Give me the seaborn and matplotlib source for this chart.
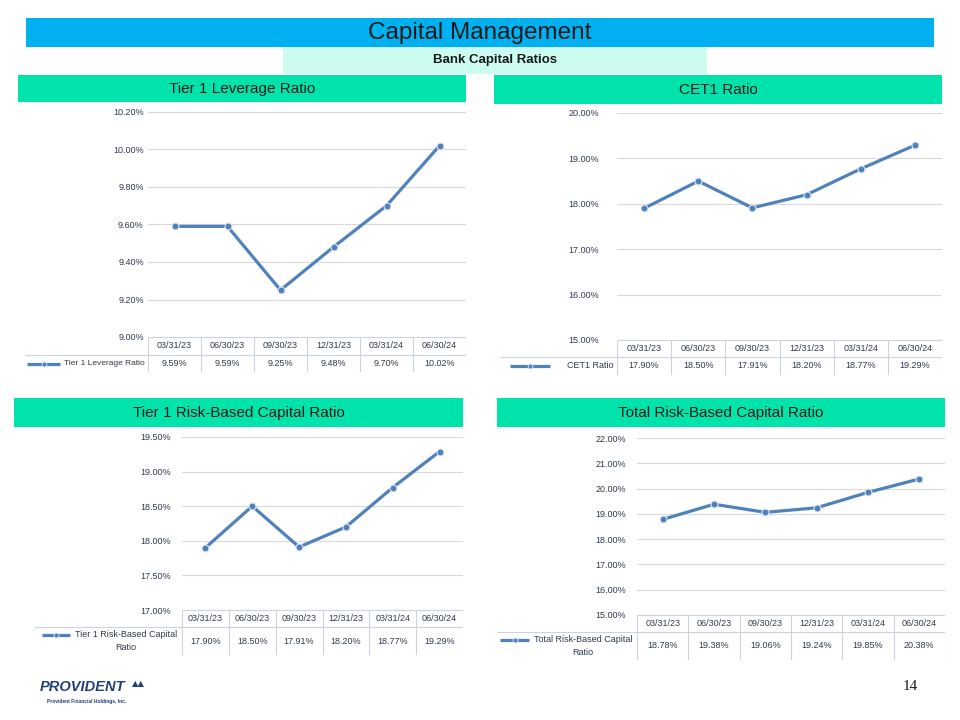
import pandas as pd
import matplotlib
matplotlib.use("Agg")
import matplotlib.pyplot as plt
from matplotlib.patches import Rectangle
import seaborn as sns

# ---- data ----
quarters = ["03/31/23", "06/30/23", "09/30/23", "12/31/23", "03/31/24", "06/30/24"]
tier1_leverage = [9.59, 9.59, 9.25, 9.48, 9.70, 10.02]
cet1 = [17.90, 18.50, 17.91, 18.20, 18.77, 19.29]
tier1_risk_based = [17.90, 18.50, 17.91, 18.20, 18.77, 19.29]
total_risk_based = [18.78, 19.38, 19.06, 19.24, 19.85, 20.38]

lev_ticks = [9.00, 9.20, 9.40, 9.60, 9.80, 10.00, 10.20]
cet1_ticks = [15.00, 16.00, 17.00, 18.00, 19.00, 20.00]
t1rb_ticks = [17.00, 17.50, 18.00, 18.50, 19.00, 19.50]
trb_ticks = [15.00, 16.00, 17.00, 18.00, 19.00, 20.00, 21.00, 22.00]

W, H = 960, 720
LINE = "#4F81BD"
TXT = "#2E3B4E"
GRID = "#D9D9D9"
TBL = "#C9D4E2"

sns.set_theme(style="white")
plt.rcParams["font.family"] = ["Liberation Sans", "DejaVu Sans"]

fig = plt.figure(figsize=(W / 100, H / 100), dpi=100)
fig.patch.set_facecolor("white")


def fbox(x0, y0, x1, y1):
    return [x0 / W, 1 - y1 / H, (x1 - x0) / W, (y1 - y0) / H]


def band(x0, y0, x1, y1, color, text, size, **kw):
    fig.add_artist(Rectangle((x0 / W, 1 - y1 / H), (x1 - x0) / W, (y1 - y0) / H,
                             transform=fig.transFigure, color=color, lw=0))
    fig.text((x0 + x1) / 2 / W, 1 - (y0 + y1) / 2 / H, text, ha="center",
             va="center", fontsize=size, color="#1A1A1A", **kw)


def panel(plot_px, table_px, key_px, values, ticks, label, pad=8,
          two_line=False, label_size=6.5):
    x0, y0, x1, y1 = plot_px
    tleft, h1, h2 = table_px
    kx0, kx1 = key_px
    df = pd.DataFrame({"quarter": quarters, "value": values})

    ax = fig.add_axes(fbox(x0, y0, x1, y1))
    sns.lineplot(data=df, x="quarter", y="value", ax=ax, color=LINE, lw=2.3,
                 marker="o", markersize=5, markeredgecolor="#DCE6F2",
                 markeredgewidth=0.8)
    ax.set_xlim(-0.5, 5.5)
    ax.set_ylim(ticks[0], ticks[-1])
    ax.set_yticks(ticks)
    ax.set_yticklabels([f"{t:.2f}%" for t in ticks], fontsize=6.5, color=TXT)
    ax.set_xticks([])
    ax.set_xlabel("")
    ax.set_ylabel("")
    ax.yaxis.grid(True, color=GRID, lw=0.8)
    ax.tick_params(axis="y", length=0, pad=pad)
    for s in ax.spines.values():
        s.set_visible(False)
    ax.patch.set_alpha(0)

    # data table below the plot
    colw = (x1 - x0) / 6
    lw_cols = (x0 - tleft) / colw
    tax = fig.add_axes(fbox(tleft, y1, x1, y1 + h1 + h2))
    tax.set_xlim(-0.5 - lw_cols, 5.5)
    tax.set_ylim(h1 + h2, 0)
    tax.axis("off")

    def px2x(px):
        return -0.5 - lw_cols + (px - tleft) / colw

    tax.hlines(0, -0.5, 5.5, color=TBL, lw=0.8)
    tax.hlines(h1, -0.5 - lw_cols, 5.5, color=TBL, lw=0.8)
    tax.vlines([i - 0.5 for i in range(7)], 0, h1 + h2, color=TBL, lw=0.8)
    for i, (q, v) in enumerate(zip(quarters, values)):
        tax.text(i, h1 / 2, q, ha="center", va="center", fontsize=6.5, color=TXT)
        tax.text(i, h1 + h2 / 2, f"{v:.2f}%", ha="center", va="center",
                 fontsize=6.5, color=TXT)

    if two_line:
        ky = h1 + h2 * 0.3
        tax.text(px2x((kx1 + x0) / 2), h1 + h2 / 2, label, ha="center",
                 va="center", fontsize=label_size, color=TXT, linespacing=1.5)
    else:
        ky = h1 + h2 / 2
        tax.text(px2x(x0 - 3), ky, label, ha="right", va="center",
                 fontsize=label_size, color=TXT)
    tax.plot([px2x(kx0), px2x(kx1)], [ky, ky], color=LINE, lw=2.3,
             solid_capstyle="butt")
    tax.plot([px2x((kx0 + kx1) / 2)], [ky], "o", color=LINE, markersize=3.5,
             markeredgecolor="#DCE6F2", markeredgewidth=0.6)


# header bands
band(26, 18, 934, 47, "#00B0F0", "Capital Management", 17.5)
band(283, 47, 707, 74, "#CCFCEF", "Bank Capital Ratios", 9.5, fontweight="bold")
band(18, 75, 466, 102, "#00E3AA", "Tier 1 Leverage Ratio", 11)
band(494, 75, 942, 104, "#00E3AA", "CET1 Ratio", 11)
band(14, 398, 463, 427, "#00E3AA", "Tier 1 Risk-Based Capital Ratio", 11)
band(497, 398, 945, 427, "#00E3AA", "Total Risk-Based Capital Ratio", 11)

panel((148, 112, 466, 337), (25, 18, 17), (27, 60), tier1_leverage, lev_ticks,
      "Tier 1 Leverage Ratio", pad=3, label_size=6)
panel((617, 113, 942, 340), (500, 17, 18), (510, 550), cet1, cet1_ticks,
      "CET1 Ratio", pad=13)
panel((182, 437, 463, 610), (34, 17, 28), (42, 70), tier1_risk_based,
      t1rb_ticks, "Tier 1 Risk-Based Capital\nRatio", two_line=True)
panel((637, 438, 945, 615), (497, 17, 28), (500, 529), total_risk_based,
      trb_ticks, "Total Risk-Based Capital\nRatio", two_line=True)

# footer: logo text and page number
fig.text(40 / W, 1 - 687 / H, "PROVIDENT", fontsize=10.5, fontweight="bold",
         fontstyle="italic", color="#1F3F7A", va="center")
fig.text(132 / W, 1 - 684 / H, "▲▲", fontsize=6, color="#1F3F7A",
         va="center", family=["DejaVu Sans"])
fig.text(47 / W, 1 - 701 / H, "Provident Financial Holdings, Inc.", fontsize=3.5,
         color="#1F3F7A", va="center", fontweight="bold")
fig.text(910 / W, 1 - 687 / H, "14", fontsize=11, color="#1A1A1A",
         ha="center", va="center", family=["Liberation Serif", "DejaVu Serif"])

fig.savefig("out.png", dpi=100)
